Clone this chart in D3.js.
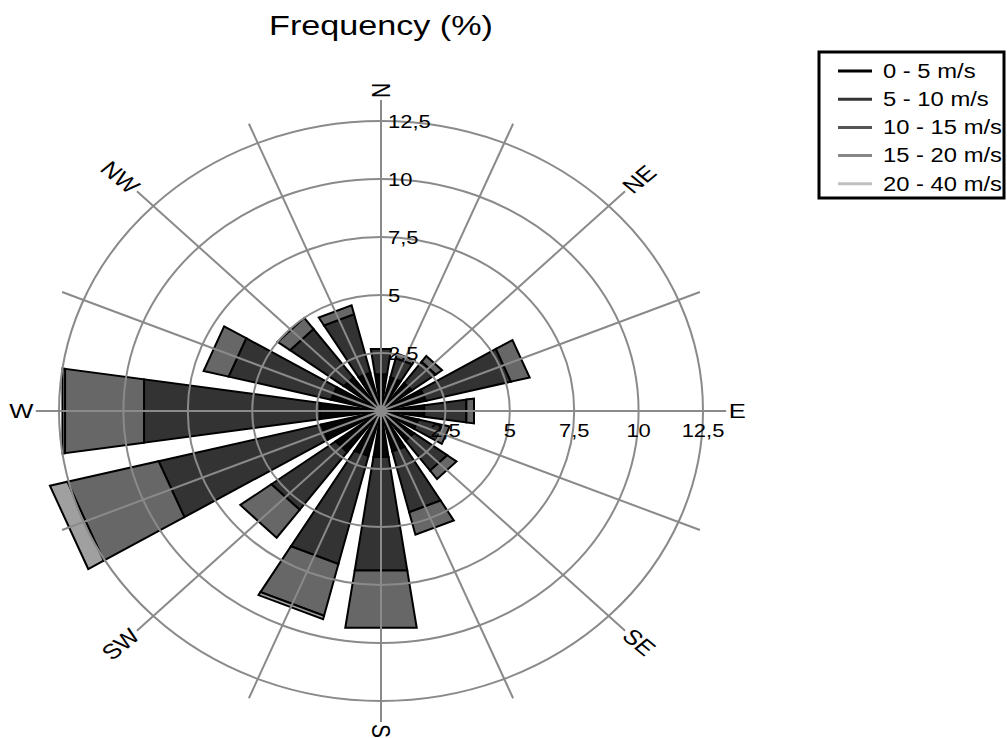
<!DOCTYPE html>
<html>
<head>
<meta charset="utf-8">
<script src="https://cdn.jsdelivr.net/npm/d3@7"></script>
<style>
  body { margin: 0; background: #fff; }
  text { font-family: "Liberation Sans", Arial, sans-serif; fill: #000; }
</style>
</head>
<body>
<div id="chart"></div>
<script>
// wind directions (16 sectors, clockwise from north)
var directions = ["N","NNE","NE","ENE","E","ESE","SE","SSE","S","SSW","SW","WSW","W","WNW","NW","NNW"];

// speed classes
var speedClasses = ["0 - 5 m/s", "5 - 10 m/s", "10 - 15 m/s", "15 - 20 m/s", "20 - 40 m/s"];

// frequency (%) per class, same order as directions
var freq0to5   = [1.6, 1.5, 1.5, 1.8, 1.7, 1.5, 1.6, 1.8, 2.0, 2.0, 2.2, 2.4, 2.4, 2.0, 1.8, 1.7];
var freq5to10  = [1.1, 0.85, 1.15, 3.4, 1.65, 1.0, 1.6, 2.7, 4.95, 4.8, 3.1, 6.5, 6.9, 4.1, 2.6, 2.6];
var freq10to15 = [0, 0.2, 0.3, 0.75, 0.3, 0.25, 0.45, 1.0, 2.5, 2.3, 1.5, 3.65, 3.1, 1.0, 0.6, 0.4];
var freq15to20 = [0, 0, 0, 0, 0, 0, 0, 0, 0, 0.15, 0, 0.7, 0.1, 0, 0, 0];
var freq20to40 = [0, 0, 0, 0, 0, 0, 0, 0, 0, 0, 0, 0, 0, 0, 0, 0];

// axis ticks
var radialTicks = [2.5, 5, 7.5, 10, 12.5];
var radialTickLabels = ["2,5", "5", "7,5", "10", "12,5"];
var compassLabels = ["N", "NE", "E", "SE", "S", "SW", "W", "NW"];

var classFill = ["#050505", "#333333", "#676767", "#a0a0a0", "#cccccc"];
var legendStroke = ["#000000", "#333333", "#555555", "#888888", "#c0c0c0"];

var width = 1007, height = 738;
var cx = 381, cy = 411;
var stretch = 1.22; // text is drawn a bit wide in the reference

var svg = d3.select("#chart").append("svg")
    .attr("width", width)
    .attr("height", height);

// radius scales (the rose is slightly elliptical)
var rx = d3.scaleLinear().domain([0, 12.5]).range([0, 322]);
var ry = d3.scaleLinear().domain([0, 12.5]).range([0, 290]);

// angle per direction
var angle = d3.scaleBand()
    .domain(directions)
    .range([-11.25, 348.75])
    .paddingInner(0.25)
    .paddingOuter(0.125);

function pt(r, deg) {
    var a = deg * Math.PI / 180;
    return [cx + rx(r) * Math.sin(a), cy - ry(r) * Math.cos(a)];
}

// build table and stack it
var keys = ["c0", "c1", "c2", "c3", "c4"];
var table = directions.map(function(d, i) {
    return { dir: d, c0: freq0to5[i], c1: freq5to10[i], c2: freq10to15[i], c3: freq15to20[i], c4: freq20to40[i] };
});
var stacked = d3.stack().keys(keys)(table);

var line = d3.line();

// bars
var bars = svg.append("g");
stacked.forEach(function(layer, k) {
    bars.append("g")
        .selectAll("path")
        .data(layer.filter(function(s) { return s[1] - s[0] > 0; }))
        .enter().append("path")
        .attr("d", function(s) {
            var a0 = angle(s.data.dir), a1 = a0 + angle.bandwidth();
            var pts = s[0] > 0
                ? [pt(s[0], a0), pt(s[1], a0), pt(s[1], a1), pt(s[0], a1)]
                : [[cx, cy], pt(s[1], a0), pt(s[1], a1)];
            return line(pts) + "Z";
        })
        .attr("fill", classFill[k])
        .attr("stroke", "#000")
        .attr("stroke-width", 2)
        .attr("stroke-linejoin", "miter");
});

// grid on top of bars
var grid = svg.append("g")
    .attr("fill", "none")
    .attr("stroke", "#8a8a8a")
    .attr("stroke-width", 2);

grid.selectAll("ellipse")
    .data(radialTicks)
    .enter().append("ellipse")
    .attr("cx", cx).attr("cy", cy)
    .attr("rx", function(t) { return rx(t); })
    .attr("ry", function(t) { return ry(t); });

grid.selectAll("line")
    .data(directions)
    .enter().append("line")
    .attr("x1", cx).attr("y1", cy)
    .attr("x2", function(d) { return pt(13.4, angle(d) + angle.bandwidth() / 2)[0]; })
    .attr("y2", function(d) { return pt(13.4, angle(d) + angle.bandwidth() / 2)[1]; });

svg.append("circle").attr("cx", cx).attr("cy", cy).attr("r", 6).attr("fill", "#8a8a8a");

// tick labels along N axis
svg.append("g").selectAll("text")
    .data(radialTicks)
    .enter().append("text")
    .attr("transform", function(t) { return "translate(" + (cx + 7) + "," + (cy - ry(t) + 7) + ") scale(" + stretch + ",1)"; })
    .attr("font-size", 18)
    .text(function(t, i) { return radialTickLabels[i]; });

// tick labels along E axis
svg.append("g").selectAll("text")
    .data(radialTicks)
    .enter().append("text")
    .attr("transform", function(t) { return "translate(" + (cx + rx(t)) + "," + (cy + 26) + ") scale(" + stretch + ",1)"; })
    .attr("text-anchor", "middle")
    .attr("font-size", 18)
    .text(function(t, i) { return radialTickLabels[i]; });

// compass labels
var labelRot = [-90, -45, 0, 45, 90, -45, 0, 45];
var labelAnchor = ["start", "start", "start", "start", "start", "end", "end", "end"];
svg.append("g").selectAll("text")
    .data(compassLabels)
    .enter().append("text")
    .attr("transform", function(d, i) {
        var p = pt(13.45, i * 45);
        return "translate(" + p[0] + "," + p[1] + ") scale(" + stretch + ",1) rotate(" + labelRot[i] + ")";
    })
    .attr("text-anchor", function(d, i) { return labelAnchor[i]; })
    .attr("dominant-baseline", "central")
    .attr("dx", function(d, i) { return labelAnchor[i] == "start" ? 1 : -1; })
    .attr("font-size", 21)
    .text(function(d) { return d; });

// title
svg.append("text")
    .attr("transform", "translate(" + cx + ",35) scale(" + stretch + ",1)")
    .attr("text-anchor", "middle")
    .attr("font-size", 28)
    .text("Frequency (%)");

// legend
var legend = svg.append("g");
legend.append("rect")
    .attr("x", 819).attr("y", 52)
    .attr("width", 185).attr("height", 146)
    .attr("fill", "#fff")
    .attr("stroke", "#000")
    .attr("stroke-width", 3);

var rows = legend.selectAll("g.row")
    .data(speedClasses)
    .enter().append("g")
    .attr("class", "row")
    .attr("transform", function(d, i) { return "translate(0," + (71 + i * 28.2) + ")"; });
rows.append("line")
    .attr("x1", 838).attr("x2", 872)
    .attr("stroke", function(d, i) { return legendStroke[i]; })
    .attr("stroke-width", 3);
rows.append("text")
    .attr("transform", "translate(883,0) scale(" + stretch + ",1)")
    .attr("dominant-baseline", "central")
    .attr("font-size", 19.5)
    .text(function(d) { return d; });
</script>
</body>
</html>
